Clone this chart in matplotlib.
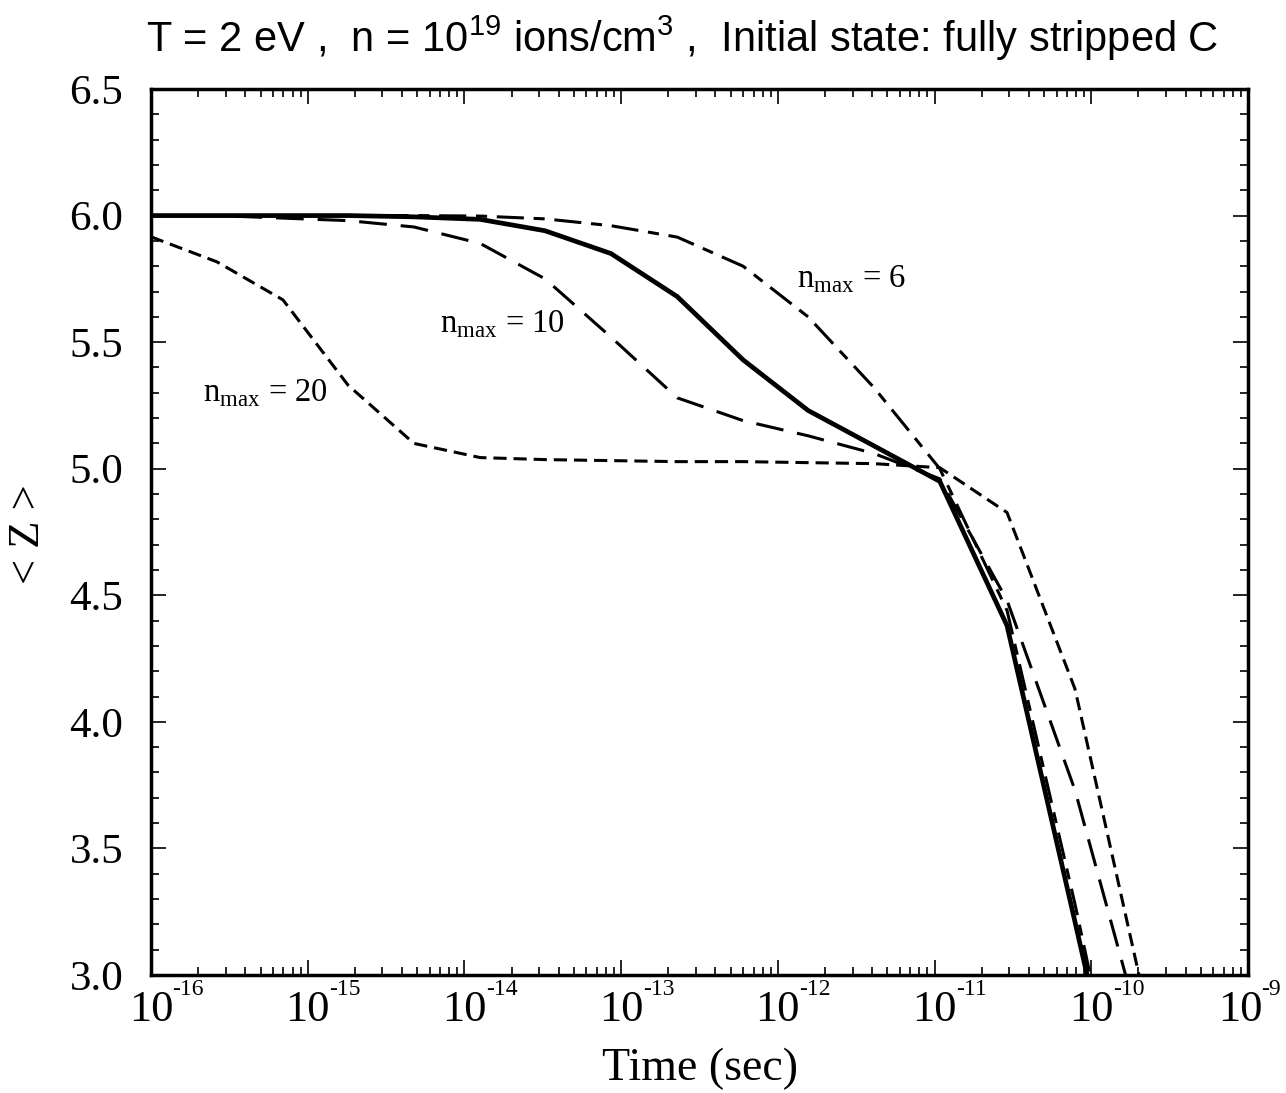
import numpy as np
import matplotlib
matplotlib.use("Agg")
import matplotlib.pyplot as plt
import matplotlib.transforms as mtransforms
from matplotlib.ticker import FixedLocator, LogLocator, MultipleLocator, FuncFormatter, NullFormatter

plt.rcParams['lines.scale_dashes'] = False

# ---- data ----
time_s = [1.0e-16, 2.64e-16, 6.95e-16, 1.81e-15, 4.76e-15, 1.26e-14, 3.27e-14,
          8.61e-14, 2.28e-13, 6.0e-13, 1.56e-12, 4.11e-12, 1.08e-11, 2.90e-11,
          7.87e-11, 2.05e-10]
z_solid = [6.00, 6.00, 6.00, 6.00, 5.995, 5.985, 5.94, 5.85, 5.68, 5.43, 5.23,
           5.09, 4.95, 4.38, 3.21, 2.08]
z_nmax6 = [6.00, 6.00, 6.00, 6.00, 6.00, 5.998, 5.987, 5.96, 5.915, 5.80, 5.60,
           5.32, 5.00, 4.44, 3.28, 2.08]
z_nmax10 = [6.00, 6.00, 5.99, 5.98, 5.955, 5.89, 5.75, 5.52, 5.28, 5.19, 5.13,
            5.06, 4.96, 4.48, 3.73, 2.79]
z_nmax20 = [5.916, 5.817, 5.667, 5.33, 5.10, 5.044, 5.036, 5.032, 5.028, 5.028,
            5.024, 5.020, 5.004, 4.827, 4.13, 2.98]

x_exponents = [-16, -15, -14, -13, -12, -11, -10, -9]

labels = [r'n$_{\mathregular{max}}$ = 6', r'n$_{\mathregular{max}}$ = 10',
          r'n$_{\mathregular{max}}$ = 20']
label_pos = [(1.32e-12, 5.715), (6.98e-15, 5.537), (2.15e-16, 5.265)]

title = (r'T = 2 eV ,  n = $\mathregular{10^{19}}$ ions/cm$\mathregular{^{3}}$ ,  '
         r'Initial state: fully stripped C')

serif = ['Liberation Serif', 'DejaVu Serif']
sans = ['Liberation Sans', 'DejaVu Sans']

fig = plt.figure(figsize=(12.86, 10.93), dpi=100)
ax = fig.add_axes([151/1286, 1 - 975/1093, (1248-151)/1286, (975-89)/1093])

ax.plot(time_s, z_solid, color='black', lw=3.4, solid_joinstyle='miter')
ax.plot(time_s, z_nmax6, color='black', lw=2.2, dashes=(19.5, 7, 8, 7))
ax.plot(time_s, z_nmax10, color='black', lw=2.2, dashes=(20, 10))
ax.plot(time_s, z_nmax20, color='black', lw=2.2, dashes=(9.5, 5))

ax.set_xscale('log')
ax.set_xlim(1e-16, 1e-9)
ax.set_ylim(3.0, 6.5)

x_major = [10.0 ** e for e in x_exponents]
ax.xaxis.set_major_locator(FixedLocator(x_major))
ax.xaxis.set_minor_locator(LogLocator(base=10, subs=np.arange(2, 10), numticks=20))
ax.xaxis.set_minor_formatter(NullFormatter())
ax.xaxis.set_major_formatter(FuncFormatter(lambda v, p: '10'))
ax.yaxis.set_major_locator(MultipleLocator(0.5))
ax.yaxis.set_minor_locator(MultipleLocator(0.1))
ax.yaxis.set_major_formatter(FuncFormatter(lambda v, p: '%.1f' % v))

ax.tick_params(which='both', direction='in', top=True, right=True, width=1.2)
ax.tick_params(which='major', length=11)
ax.tick_params(which='minor', length=5.5)
ax.tick_params(axis='y', which='major', pad=20, labelsize=31)
ax.tick_params(axis='x', which='major', pad=11, labelsize=32)
for s in ax.spines.values():
    s.set_linewidth(2.5)

fig.canvas.draw()
xlabs = ax.get_xticklabels()
for lab in xlabs + ax.get_yticklabels():
    lab.set_family(serif)
# the last label sits a little to the left, as in the reference
shift_px = -8
xlabs[-1].set_transform(xlabs[-1].get_transform() +
                        mtransforms.ScaledTranslation(shift_px / 100, 0, fig.dpi_scale_trans))

# exponents of the x tick labels
for i, (xv, e) in enumerate(zip(x_major, x_exponents)):
    dx = 15.5 + (shift_px * 0.72 if i == len(x_major) - 1 else 0)
    ax.annotate('%d' % e, xy=(xv, 0), xycoords=ax.get_xaxis_transform(),
                xytext=(dx, -3), textcoords='offset points',
                ha='left', va='top', family=serif, fontsize=17,
                annotation_clip=False)

for txt, (xx, yy) in zip(labels, label_pos):
    ax.text(xx, yy, txt, family=serif, fontsize=23.5, ha='left', va='baseline')

fig.text(700/1286, 1 - 1080/1093, 'Time (sec)', family=serif, fontsize=33,
         ha='center', va='baseline')
fig.text(28/1286, 1 - 534/1093, '< Z >', family=serif, fontsize=32,
         rotation=90, ha='center', va='center')

fig.text(682/1286, 1 - 52/1093, title, family=sans, fontsize=30,
         ha='center', va='baseline')

fig.savefig('out.png', dpi=100)
